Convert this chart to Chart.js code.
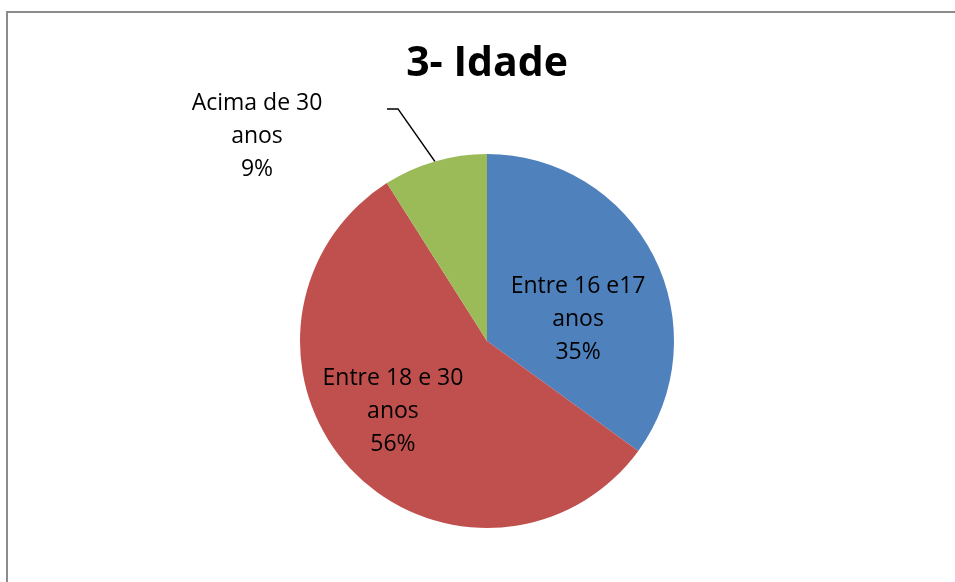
<!DOCTYPE html>
<html>
<head>
<meta charset="utf-8">
<script src="https://cdn.jsdelivr.net/npm/chart.js@4"></script>
<style>
  body { margin: 0; background: #fff; }
  #frame { position: absolute; left: 6px; top: 11px; width: 1000px; height: 1000px;
           border-left: 2px solid #8c8c8c; border-top: 2px solid #8c8c8c; }
  #idadeChart { position: absolute; left: 0; top: 0; }
</style>
</head>
<body>
<div id="frame"></div>
<canvas id="idadeChart" width="955" height="582"></canvas>
<script>
// dados do grafico
const categorias = ['Entre 16 e17 anos', 'Entre 18 e 30 anos', 'Acima de 30 anos'];
const percentuais = [35, 56, 9];
const rotulos = [
  ['Entre 16 e17', 'anos', '35%'],
  ['Entre 18 e 30', 'anos', '56%'],
  ['Acima de 30', 'anos', '9%']
];

const cores = ['#4F81BD', '#C0504D', '#9BBB59'];

// posicao dos rotulos em fracoes do raio (relativo ao centro da pizza)
const posRotulos = [
  { fx: 0.487, fy: -0.115 },
  { fx: -0.503, fy: 0.377 },
  { fx: -1.23, fy: -1.093, linha: true }
];

const rotuloPlugin = {
  id: 'rotulos',
  afterDatasetsDraw(chart) {
    const ctx = chart.ctx;
    const meta = chart.getDatasetMeta(0);
    ctx.save();
    ctx.font = '23px "Open Sans"';
    ctx.fillStyle = '#000';
    ctx.textAlign = 'center';
    ctx.textBaseline = 'middle';
    meta.data.forEach((arc, i) => {
      const R = arc.outerRadius;
      const p = posRotulos[i];
      const cx = arc.x + p.fx * R;
      const cy = arc.y + p.fy * R;
      rotulos[i].forEach((txt, j) => {
        ctx.fillText(txt, cx, cy + (j - 1) * 33);
      });
      if (p.linha) {
        // linha de chamada ate o meio da fatia
        const mid = (arc.startAngle + arc.endAngle) / 2;
        const ex = arc.x + Math.cos(mid) * R;
        const ey = arc.y + Math.sin(mid) * R;
        const ky = arc.y - 1.241 * R;
        ctx.beginPath();
        ctx.strokeStyle = '#000';
        ctx.lineWidth = 1.5;
        ctx.moveTo(arc.x - 0.535 * R, ky);
        ctx.lineTo(arc.x - 0.476 * R, ky);
        ctx.lineTo(ex, ey);
        ctx.stroke();
      }
    });
    ctx.restore();
  }
};

new Chart(document.getElementById('idadeChart'), {
  type: 'pie',
  data: {
    labels: categorias,
    datasets: [{
      data: percentuais,
      backgroundColor: cores,
      borderWidth: 0
    }]
  },
  options: {
    responsive: false,
    animation: false,
    layout: { padding: { top: 0, bottom: 54, left: 19, right: 0 } },
    plugins: {
      legend: { display: false },
      tooltip: { enabled: false },
      title: {
        display: true,
        text: '3- Idade',
        color: '#000',
        font: { family: '"Open Sans"', size: 41, weight: 'bold', lineHeight: 1.2 },
        padding: { top: 40, bottom: 64.8 }
      }
    }
  },
  plugins: [rotuloPlugin]
});
</script>
</body>
</html>
